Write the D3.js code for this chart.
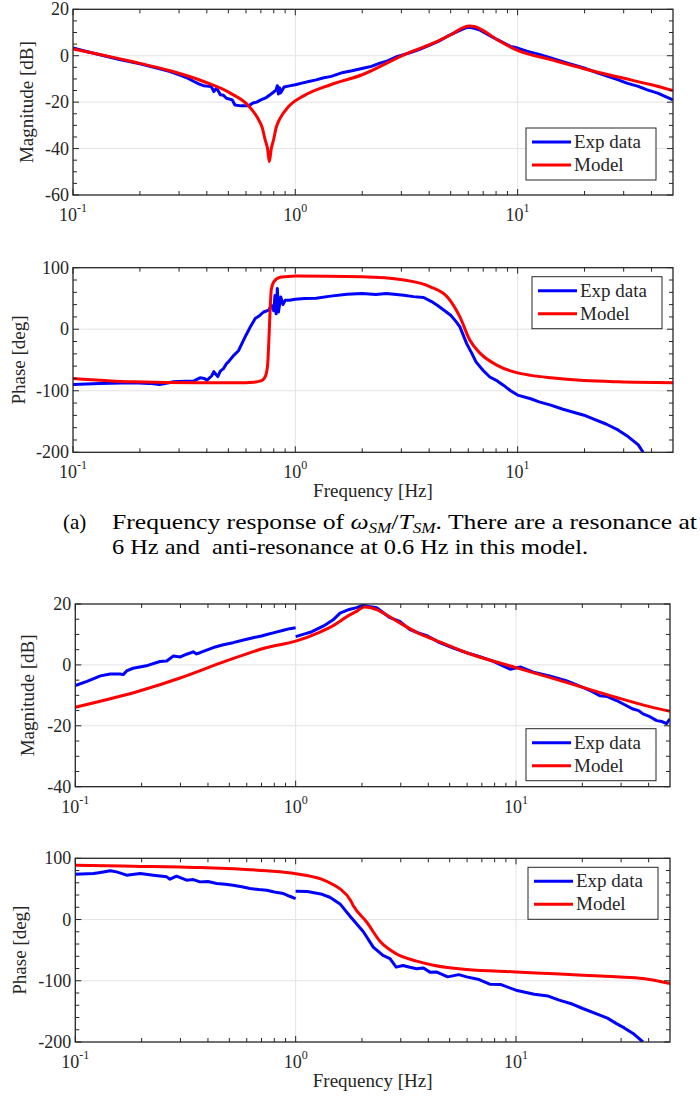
<!DOCTYPE html>
<html>
<head>
<meta charset="utf-8">
<script src="https://cdn.jsdelivr.net/npm/d3@7"></script>
<style>
  body { margin: 0; background: #fff; }
  svg { display: block; }
  text { font-family: "Liberation Serif", "Times New Roman", serif; fill: #262626; }
</style>
</head>
<body>
<script>
// ---- data: [frequency Hz, value] ----
var magExpA = [[0.1,3.3],[0.115,1.8],[0.132,0.4],[0.16,-1.5],[0.2,-3.5],[0.238,-5.3],[0.2735,-6.8],[0.307,-8.6],[0.33,-9.8],[0.35,-11.1],[0.37,-12.2],[0.387,-12.9],[0.41,-13.2],[0.42,-13.5],[0.43,-15.4],[0.44,-14.2],[0.447,-14.7],[0.46,-16.8],[0.475,-17.0],[0.49,-18.3],[0.52,-19],[0.535,-21.2],[0.57,-21.6],[0.616,-21.6],[0.645,-20.4],[0.67,-20.0],[0.70,-19],[0.74,-18.0],[0.77,-16.8],[0.80,-15.6],[0.82,-14.7],[0.83,-12.9],[0.84,-16.5],[0.85,-13.8],[0.86,-16.0],[0.89,-13.5],[0.94,-13.0],[1.0,-12.5],[1.07,-11.8],[1.15,-11.1],[1.24,-10.4],[1.33,-9.6],[1.45,-8.9],[1.64,-7.2],[1.8,-6.5],[2.04,-5.3],[2.2,-4.6],[2.4,-3.2],[2.6,-2.2],[2.88,-0.3],[3.1,0.6],[3.3,1.4],[3.6,2.6],[4.05,4.7],[4.4,6.2],[4.82,8.3],[5.2,9.8],[5.5,10.9],[5.8,11.9],[6.04,12.3],[6.4,11.8],[6.81,10.9],[7.4,9.0],[8.1,6.9],[8.7,5.4],[9.3,4.0],[10,3.3],[11,2.0],[12.5,0.6],[14.1,-1.0],[16.5,-3.0],[19.9,-5.3],[23,-7.5],[28.4,-10.4],[31,-11.8],[34.9,-13.2],[38,-14.6],[42.7,-16.1],[46,-17.5],[50,-19]];
var magModelA = [[0.1,2.9],[0.2,-3.3],[0.2735,-6.5],[0.387,-11.1],[0.51,-16.1],[0.616,-21.6],[0.684,-27.6],[0.71,-31],[0.732,-36.3],[0.75,-40],[0.764,-45.6],[0.78,-40],[0.798,-36.3],[0.82,-31],[0.855,-26.9],[0.933,-21.9],[1.09,-17.3],[1.44,-12.5],[2.0,-8.2],[3.08,0.4],[4.35,6.2],[5.17,9.8],[5.6,11.8],[6.04,12.8],[6.4,12.6],[6.81,11.5],[8.1,6.9],[10,2.3],[14.1,-1.7],[19.9,-5.6],[28.4,-9.2],[40,-12.5],[50,-15]];

var phaseExpA = [[0.1,-90],[0.132,-88],[0.186,-87],[0.22,-88],[0.245,-90],[0.27,-87],[0.283,-85.5],[0.32,-84.5],[0.35,-84],[0.373,-79],[0.39,-80],[0.4,-83],[0.42,-76],[0.43,-69],[0.448,-77],[0.46,-68],[0.475,-64],[0.49,-56],[0.5,-53],[0.53,-42],[0.555,-35],[0.58,-20.6],[0.6,-9.7],[0.63,5],[0.66,17.3],[0.69,22],[0.72,28],[0.76,31],[0.78,39],[0.8,30],[0.81,55],[0.82,25],[0.83,66],[0.84,28],[0.86,52.5],[0.88,40],[0.9,47],[0.94,47],[1.0,48.7],[1.1,50],[1.24,50.5],[1.44,53.8],[1.71,57],[2.0,58],[2.3,56.5],[2.57,58],[3.08,55.4],[3.4,53],[3.78,51.6],[4.1,45],[4.35,39],[4.7,30],[5.0,22.8],[5.3,12],[5.5,3.8],[5.7,-10],[5.9,-23.4],[6.2,-38],[6.5,-53],[7.0,-67],[7.5,-77.7],[8.1,-84],[8.66,-91.3],[9.3,-100],[10,-107],[11.45,-113],[12.5,-118],[14.1,-123.4],[16,-130],[19.9,-139.7],[22,-146],[25,-154],[28.4,-164],[31,-173],[34.9,-188],[36.7,-200]];
var phaseModelA = [[0.1,-80],[0.186,-85.5],[0.37,-87],[0.55,-87],[0.65,-86],[0.70,-84],[0.73,-78],[0.75,-60],[0.76,-20],[0.77,30],[0.78,65],[0.80,77],[0.855,84.5],[0.91,85.5],[1.0,86.5],[2.0,85.3],[3.08,79.9],[4.05,69],[4.82,52.7],[5.5,20],[6.1,-18],[6.81,-39.7],[8.1,-58.7],[10,-71],[11.45,-75],[14.1,-79],[19.9,-83.4],[28.4,-85.5],[50,-87]];

var magExpB1 = [[0.1,-6.8],[0.113,-5.4],[0.13,-3.6],[0.144,-3.0],[0.16,-3.0],[0.165,-3.2],[0.171,-2],[0.183,-1.1],[0.21,-0.3],[0.242,1.1],[0.26,1.3],[0.278,2.9],[0.3,2.6],[0.32,3.5],[0.343,4.3],[0.355,3.6],[0.368,4.0],[0.4,5.0],[0.423,5.7],[0.47,6.6],[0.52,7.3],[0.58,8.2],[0.64,8.9],[0.7,9.5],[0.74,10],[0.8,10.6],[0.88,11.4],[0.94,11.9],[1.0,12.2]];
var magExpB2 = [[1.0,9.3],[1.1,10.2],[1.166,10.7],[1.34,12.8],[1.48,14.8],[1.59,17.0],[1.75,18.2],[1.89,18.8],[2.03,19.6],[2.15,19.2],[2.33,18.8],[2.45,17.6],[2.68,15.5],[2.97,14.3],[3.3,11.6],[3.6,10.5],[3.97,9.5],[4.5,7.3],[5.2,5.5],[5.97,4],[6.8,2.8],[7.8,1.3],[9.4,-1.4],[10.5,-0.7],[12,-2.4],[14.2,-3.6],[16.9,-5.2],[20.1,-7.4],[22,-8.6],[24,-10.1],[26,-10.4],[28.6,-11.7],[31,-13.0],[34,-14.5],[36,-15],[37.7,-16.1],[40,-16.8],[43.5,-18.3],[46,-18.6],[48.2,-19.3],[50,-17.7]];
var magModelB = [[0.1,-13.9],[0.197,-8.5],[0.299,-4.3],[0.485,1.3],[0.74,5.7],[1.0,7.8],[1.29,10.8],[1.43,12.3],[1.77,16.5],[1.89,17.6],[2.05,19.0],[2.2,18.8],[2.42,17.6],[2.86,14.5],[2.97,13.8],[3.54,10.7],[4.22,8.4],[5.97,4.0],[10,-0.9],[14.2,-4.1],[20.1,-7.4],[28.6,-10.7],[40.4,-13.7],[50,-15.2]];

var phaseExpB1 = [[0.1,74],[0.121,75.1],[0.13,76.8],[0.144,79.5],[0.154,77.8],[0.171,72.4],[0.197,75.1],[0.226,72.4],[0.26,69.7],[0.269,65.9],[0.288,70.8],[0.32,64.2],[0.343,65.3],[0.368,61.5],[0.4,62],[0.438,58.8],[0.48,57.5],[0.52,56],[0.57,53.5],[0.62,50.6],[0.68,49],[0.74,47.9],[0.8,45],[0.88,42.5],[0.94,38],[1.0,34.3]];
var phaseExpB2 = [[1.0,46],[1.13,45.7],[1.3,41.8],[1.43,36.4],[1.59,25.5],[1.77,5],[2.03,-20],[2.25,-45],[2.49,-58.7],[2.68,-63.7],[2.86,-77.7],[3.07,-75],[3.3,-78],[3.54,-80.4],[3.8,-79],[4.07,-85.9],[4.35,-85.5],[4.9,-93.6],[5.5,-90],[5.97,-93.6],[6.8,-98],[7.6,-105.6],[8.5,-106],[10,-115.4],[12.1,-122],[14,-125],[15.7,-131.7],[18,-138],[20.1,-145.3],[24,-156],[26,-161],[28.6,-170],[31,-177],[34,-186],[37.7,-200]];
var phaseModelB = [[0.1,88.7],[0.183,87.1],[0.368,84.9],[0.74,79.5],[1.0,74.8],[1.3,66.3],[1.48,57],[1.59,50],[1.77,32],[1.83,22],[2.1,-4],[2.42,-36],[2.86,-56],[3.54,-68],[4.22,-74.6],[5.97,-81.7],[10,-85.5],[14.2,-88.2],[20.1,-90.9],[28.6,-93.6],[37.7,-96.3],[50,-104.5]];

var freqDomain = [0.1, 50];
var xMajor = [0.1, 1, 10];
var xMajorExp = ['-1', '0', '1'];
var legendNames = ['Exp data', 'Model'];
var blue = '#0000ff', red = '#ff0000';
var axisColor = '#262626', gridColor = '#e3e3e3';

var svg = d3.select('body').append('svg')
    .attr('width', 700)
    .attr('height', 1097);

var clipId = 0;

function drawPanel(o) {
    var x = d3.scaleLog().domain(freqDomain).range([o.left, o.right]);
    var y = d3.scaleLinear().domain(o.yDomain).range([o.bottom, o.top]);
    var g = svg.append('g');

    // minor x ticks 2..9 of each decade
    var xMinor = [];
    [0.1, 1, 10].forEach(function (d) {
        for (var k = 2; k <= 9; k++) {
            var v = d * k;
            if (v < freqDomain[1]) xMinor.push(v);
        }
    });
    var yMinor = d3.range(o.yDomain[0], o.yDomain[1] + 0.001, o.yMinorStep)
        .filter(function (v) { return o.yMajor.indexOf(v) < 0; });

    // grid
    g.selectAll('.gx').data(xMajor.filter(function (d) { return d > freqDomain[0]; }))
        .enter().append('line')
        .attr('x1', x).attr('x2', x).attr('y1', o.top).attr('y2', o.bottom)
        .attr('stroke', gridColor).attr('stroke-width', 1);
    g.selectAll('.gy').data(o.yMajor.filter(function (d) { return d > o.yDomain[0] && d < o.yDomain[1]; }))
        .enter().append('line')
        .attr('y1', y).attr('y2', y).attr('x1', o.left).attr('x2', o.right)
        .attr('stroke', gridColor).attr('stroke-width', 1);

    // data
    var cid = 'clip' + (clipId++);
    g.append('clipPath').attr('id', cid).append('rect')
        .attr('x', o.left).attr('y', o.top)
        .attr('width', o.right - o.left).attr('height', o.bottom - o.top);

    var lineExp = d3.line().x(function (d) { return x(d[0]); }).y(function (d) { return y(d[1]); });
    var lineModel = d3.line().x(function (d) { return x(d[0]); }).y(function (d) { return y(d[1]); })
        .curve(d3.curveMonotoneX);

    var plot = g.append('g').attr('clip-path', 'url(#' + cid + ')');
    o.exp.forEach(function (s) {
        plot.append('path').datum(s).attr('d', lineExp)
            .attr('fill', 'none').attr('stroke', blue).attr('stroke-width', 3)
            .attr('stroke-linejoin', 'round');
    });
    plot.append('path').datum(o.model).attr('d', lineModel)
        .attr('fill', 'none').attr('stroke', red).attr('stroke-width', 3)
        .attr('stroke-linejoin', 'round');

    // ticks (inward, all four sides)
    var tk = g.append('g').attr('stroke', axisColor).attr('stroke-width', 1);
    function xTick(v, len) {
        tk.append('line').attr('x1', x(v)).attr('x2', x(v)).attr('y1', o.bottom).attr('y2', o.bottom - len);
        tk.append('line').attr('x1', x(v)).attr('x2', x(v)).attr('y1', o.top).attr('y2', o.top + len);
    }
    function yTick(v, len) {
        tk.append('line').attr('y1', y(v)).attr('y2', y(v)).attr('x1', o.left).attr('x2', o.left + len);
        tk.append('line').attr('y1', y(v)).attr('y2', y(v)).attr('x1', o.right).attr('x2', o.right - len);
    }
    xMajor.forEach(function (v) { xTick(v, 6); });
    xMinor.forEach(function (v) { xTick(v, 4); });
    o.yMajor.forEach(function (v) { yTick(v, 6); });
    yMinor.forEach(function (v) { yTick(v, 4); });

    // box
    g.append('rect')
        .attr('x', o.left).attr('y', o.top)
        .attr('width', o.right - o.left).attr('height', o.bottom - o.top)
        .attr('fill', 'none').attr('stroke', axisColor).attr('stroke-width', 1.3);

    // tick labels
    g.selectAll('.yl').data(o.yMajor).enter().append('text')
        .attr('x', o.left - 4).attr('y', function (d) { return y(d) + 6; })
        .attr('text-anchor', 'end').style('font-size', '18px')
        .text(function (d) { return d; });

    xMajor.forEach(function (v, i) {
        var t = g.append('text')
            .attr('x', x(v)).attr('y', o.bottom + 26)
            .attr('text-anchor', 'middle').style('font-size', '18px');
        t.append('tspan').text('10');
        t.append('tspan').attr('dy', -9).style('font-size', '12px').text(xMajorExp[i]);
    });

    // axis labels
    g.append('text')
        .attr('transform', 'translate(' + (o.ylabelX + 6) + ',' + ((o.top + o.bottom) / 2) + ') rotate(-90)')
        .attr('text-anchor', 'middle').style('font-size', '19px')
        .text(o.ylabel);
    if (o.xlabel) {
        g.append('text')
            .attr('x', (o.left + o.right) / 2).attr('y', o.bottom + 45)
            .attr('text-anchor', 'middle').style('font-size', '19px')
            .text('Frequency [Hz]');
    }

    // legend
    var lw = 130, lh = 52;
    var lx = o.right - o.legend.dx - lw;
    var ly = o.legend.corner === 'tr' ? o.top + o.legend.dy : o.bottom - o.legend.dy - lh;
    var lg = g.append('g').attr('transform', 'translate(' + lx + ',' + ly + ')');
    lg.append('rect').attr('width', lw).attr('height', lh)
        .attr('fill', '#fff').attr('stroke', axisColor).attr('stroke-width', 1);
    [blue, red].forEach(function (c, i) {
        var cy = 14 + i * 23;
        lg.append('line').attr('x1', 6).attr('x2', 45).attr('y1', cy).attr('y2', cy)
            .attr('stroke', c).attr('stroke-width', 3);
        lg.append('text').attr('x', 48).attr('y', cy + 6)
            .style('font-size', '19px').text(legendNames[i]);
    });
}

drawPanel({left: 73, right: 673, top: 9.3, bottom: 195, yDomain: [-60, 20],
    yMajor: [-60, -40, -20, 0, 20], yMinorStep: 5,
    exp: [magExpA], model: magModelA,
    legend: {corner: 'br', dx: 17, dy: 15}, ylabel: 'Magnitude [dB]', ylabelX: 27, xlabel: false});
drawPanel({left: 73, right: 673, top: 267.7, bottom: 452.3, yDomain: [-200, 100],
    yMajor: [-200, -100, 0, 100], yMinorStep: 20,
    exp: [phaseExpA], model: phaseModelA,
    legend: {corner: 'tr', dx: 11, dy: 9}, ylabel: 'Phase [deg]', ylabelX: 19, xlabel: true});
drawPanel({left: 75.3, right: 670, top: 604, bottom: 786.7, yDomain: [-40, 20],
    yMajor: [-40, -20, 0, 20], yMinorStep: 5,
    exp: [magExpB1, magExpB2], model: magModelB,
    legend: {corner: 'br', dx: 14, dy: 6}, ylabel: 'Magnitude [dB]', ylabelX: 28, xlabel: false});
drawPanel({left: 75.3, right: 670, top: 858.3, bottom: 1042, yDomain: [-200, 100],
    yMajor: [-200, -100, 0, 100], yMinorStep: 20,
    exp: [phaseExpB1, phaseExpB2], model: phaseModelB,
    legend: {corner: 'tr', dx: 12, dy: 9}, ylabel: 'Phase [deg]', ylabelX: 20, xlabel: true});

// caption
var cap = svg.append('g').style('font-size', '21px');
cap.append('text').attr('x', 63).attr('y', 529).style('fill', '#000').text('(a)');
var c1 = cap.append('text').attr('x', 112).attr('y', 529).style('fill', '#000')
    .attr('textLength', 585).attr('lengthAdjust', 'spacingAndGlyphs');
c1.append('tspan').text('Frequency response of ');
c1.append('tspan').style('font-style', 'italic').text('ω');
c1.append('tspan').attr('dy', 4).style('font-size', '14px').style('font-style', 'italic').text('SM');
c1.append('tspan').attr('dy', -4).text('/');
c1.append('tspan').style('font-style', 'italic').text('T');
c1.append('tspan').attr('dy', 4).style('font-size', '14px').style('font-style', 'italic').text('SM');
c1.append('tspan').attr('dy', -4).text('. There are a resonance at');
cap.append('text').attr('x', 112).attr('y', 554).style('fill', '#000')
    .attr('textLength', 476).attr('lengthAdjust', 'spacingAndGlyphs')
    .text('6 Hz and \u00a0anti-resonance at 0.6 Hz in this model.');
</script>
</body>
</html>
